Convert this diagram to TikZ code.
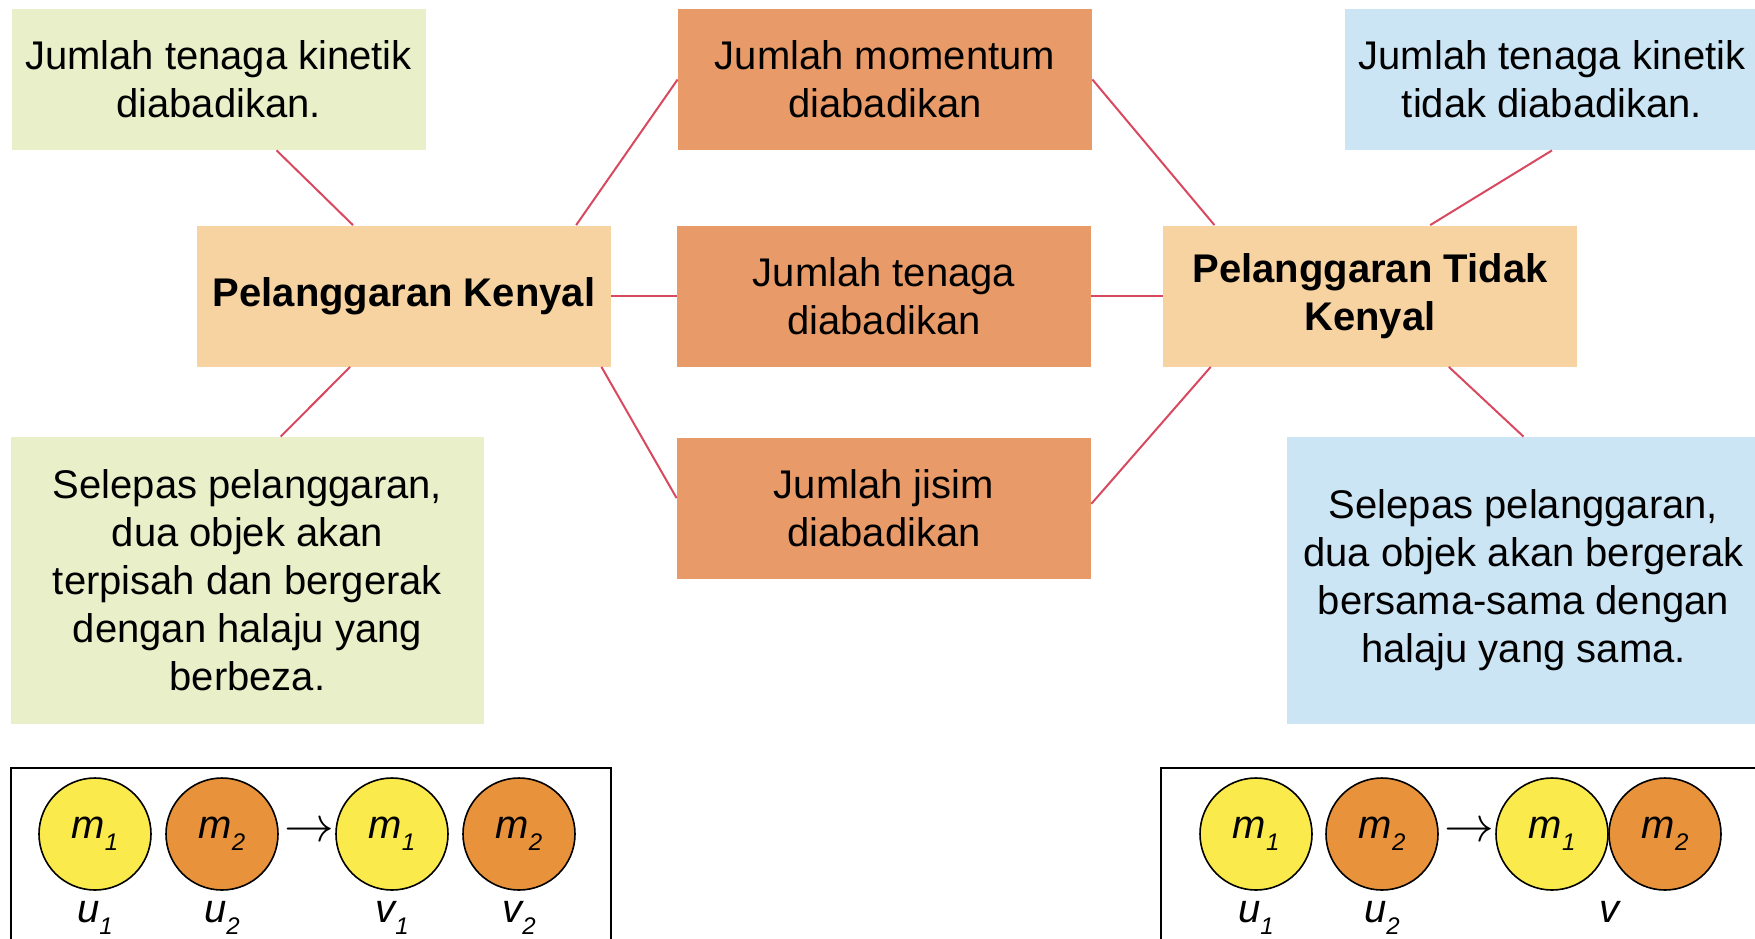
\documentclass[tikz,border=0pt]{standalone}
\usepackage{fontspec}
\setmainfont{Liberation Sans}
\usetikzlibrary{calc}
\definecolor{boxgreen}{HTML}{E9EFC8}
\definecolor{boxpeach}{HTML}{F6D3A0}
\definecolor{boxorange}{HTML}{E89B68}
\definecolor{boxblue}{HTML}{CCE5F5}
\definecolor{linkred}{HTML}{D8495F}
\definecolor{ballyellow}{HTML}{FBEA4C}
\definecolor{ballorange}{HTML}{E8933C}
\tikzset{
  card/.style={rectangle, inner sep=0pt, align=center, text=black,
    font=\fontsize{20}{24}\selectfont},
  smallcard/.style={card, minimum width=207pt, minimum height=70.5pt},
  link/.style={draw=linkred, line width=1pt},
  ball/.style={circle, draw=black, line width=0.8pt, inner sep=0pt,
    minimum size=56pt, font=\fontsize{20}{24}\selectfont\itshape},
  speed/.style={font=\fontsize{20}{24}\selectfont\itshape, inner sep=0pt},
  goes/.style={font=\fontsize{26}{26}\selectfont, inner sep=0pt},
  frame/.style={draw=black, line width=1pt}
}
\newcommand{\lbl}[2]{#1\raisebox{-0.55ex}{\fontsize{12}{12}\selectfont #2}}
\begin{document}
\begin{tikzpicture}[x=0.5pt,y=-0.5pt]
\useasboundingbox (0,0) rectangle (1755,938);

% concept boxes
\node[smallcard, fill=boxgreen] (gt) at (218.5,79.5) {Jumlah tenaga kinetik\\diabadikan.};
\node[smallcard, fill=boxpeach, font=\fontsize{20}{24}\selectfont\bfseries] (pk) at (404,296) {Pelanggaran Kenyal};
\node[smallcard, fill=boxorange] (mo) at (885,79.5) {Jumlah momentum\\diabadikan};
\node[smallcard, fill=boxorange] (te) at (884,296) {Jumlah tenaga\\diabadikan};
\node[smallcard, fill=boxorange] (ji) at (884,508) {Jumlah jisim\\diabadikan};
\node[smallcard, fill=boxpeach, font=\fontsize{20}{24}\selectfont\bfseries] (ptk) at (1370,296) {Pelanggaran Tidak\\Kenyal};
\node[smallcard, fill=boxblue] (bt) at (1552,79.5) {Jumlah tenaga kinetik\\tidak diabadikan.};
\node[card, fill=boxgreen, minimum width=236.5pt, minimum height=143.5pt] (gb) at (247.5,580.5)
  {Selepas pelanggaran,\\dua objek akan\\terpisah dan bergerak\\dengan halaju yang\\berbeza.};
\node[card, fill=boxblue, minimum width=236.5pt, minimum height=143.5pt] (bb) at (1523.5,580.5)
  {Selepas pelanggaran,\\dua objek akan bergerak\\bersama-sama dengan\\halaju yang sama.};

% connectors
\draw[link] ($(gt.south west)!0.64!(gt.south east)$) -- ($(pk.north west)!0.377!(pk.north east)$);
\draw[link] ($(pk.north west)!0.915!(pk.north east)$) -- (mo.west);
\draw[link] (pk.east) -- (te.west);
\draw[link] ($(pk.south west)!0.976!(pk.south east)$) -- ($(ji.north west)!0.43!(ji.south west)$);
\draw[link] ($(pk.south west)!0.37!(pk.south east)$) -- ($(gb.north west)!0.57!(gb.north east)$);
\draw[link] (mo.east) -- ($(ptk.north west)!0.125!(ptk.north east)$);
\draw[link] (te.east) -- (ptk.west);
\draw[link] ($(ji.north east)!0.47!(ji.south east)$) -- ($(ptk.south west)!0.116!(ptk.south east)$);
\draw[link] ($(ptk.north west)!0.645!(ptk.north east)$) -- ($(bt.south west)!0.5!(bt.south east)$);
\draw[link] ($(ptk.south west)!0.69!(ptk.south east)$) -- ($(bb.north west)!0.5!(bb.north east)$);

% elastic collision sketch
\coordinate (fl1) at (11,768);
\coordinate (fl2) at (611,960);
\draw[frame] (fl1) rectangle (fl2);
\node[ball, fill=ballyellow] (a1) at (95,834) {\lbl{m}{1}};
\node[ball, fill=ballorange] (a2) at (222,834) {\lbl{m}{2}};
\node[goes] (ar1) at (309,832) {$\rightarrow$};
\node[ball, fill=ballyellow] (a3) at (392,834) {\lbl{m}{1}};
\node[ball, fill=ballorange] (a4) at (519,834) {\lbl{m}{2}};
\node[speed] (su1) at (95,918) {\lbl{u}{1}};
\node[speed] (su2) at (222,918) {\lbl{u}{2}};
\node[speed] (sv1) at (392,918) {\lbl{v}{1}};
\node[speed] (sv2) at (519,918) {\lbl{v}{2}};

% inelastic collision sketch
\coordinate (fr1) at (1161,768);
\coordinate (fr2) at (1770,960);
\draw[frame] (fr1) rectangle (fr2);
\node[ball, fill=ballyellow] (b1) at (1256,834) {\lbl{m}{1}};
\node[ball, fill=ballorange] (b2) at (1382,834) {\lbl{m}{2}};
\node[goes] (ar2) at (1469,832) {$\rightarrow$};
\node[ball, fill=ballyellow] (b3) at (1552,834) {\lbl{m}{1}};
\node[ball, fill=ballorange] (b4) at (1665,834) {\lbl{m}{2}};
\node[speed] (tu1) at (1256,918) {\lbl{u}{1}};
\node[speed] (tu2) at (1382,918) {\lbl{u}{2}};
\node[speed] (tv) at (1609,912) {v};
\end{tikzpicture}
\end{document}
